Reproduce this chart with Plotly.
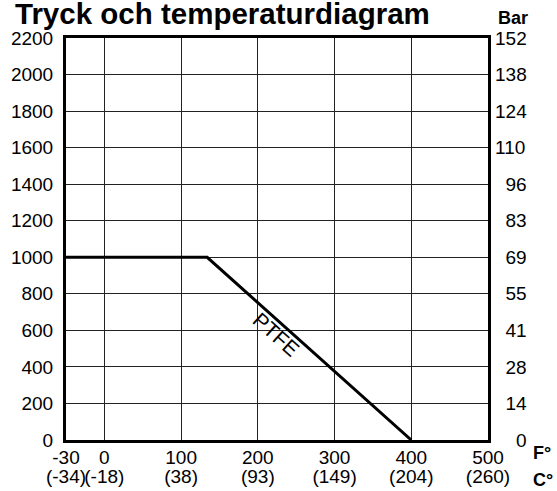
import plotly.graph_objects as go

# ---- data ----
psi_ticks = [0, 200, 400, 600, 800, 1000, 1200, 1400, 1600, 1800, 2000, 2200]
bar_labels = ["0", "14", "28", "41", "55", "69", "83", "96", "110", "124", "138", "152"]
temp_F_pos = [-50, 0, 100, 200, 300, 400, 500]          # axis origin is labelled -30
temp_F_labels = ["-30", "0", "100", "200", "300", "400", "500"]
temp_C_labels = ["(-34)", "(-18)", "(38)", "(93)", "(149)", "(204)", "(260)"]
ptfe_temp = [-50, 134, 400]
ptfe_psi = [1000, 1000, 0]

FONT = "Liberation Sans, Arial, sans-serif"
W, H = 557, 491
ML, MR, MT, MB = 66, 69, 38, 51
PW, PH = W - ML - MR, H - MT - MB

def px_x(px):
    return (px - ML) / PW

def px_y(py):
    return (H - MB - py) / PH

# pad right-axis labels so they appear right-aligned
bar_padded = ["\u00a0\u00a0" * (3 - len(s)) + s for s in bar_labels]

fig = go.Figure()
fig.add_trace(go.Scatter(x=ptfe_temp, y=ptfe_psi, mode="lines",
                         line=dict(color="black", width=3), showlegend=False,
                         hoverinfo="skip"))
# invisible trace for secondary axes
fig.add_trace(go.Scatter(x=[temp_F_pos[0]], y=[psi_ticks[0]], xaxis="x2", yaxis="y2",
                         mode="markers", marker=dict(opacity=0), showlegend=False,
                         hoverinfo="skip"))

xr = [-50, 500]
yr = [0, 2200]
fig.update_layout(
    width=W, height=H,
    margin=dict(l=ML, r=MR, t=MT, b=MB, pad=0, autoexpand=False),
    paper_bgcolor="white", plot_bgcolor="white",
    font=dict(family=FONT, size=19, color="black"),
    xaxis=dict(range=xr, tickmode="array", tickvals=temp_F_pos, ticktext=temp_F_labels,
               showgrid=True, gridcolor="#222", gridwidth=1,
               showline=True, linecolor="black", linewidth=3, mirror=True,
               ticks="", zeroline=False, ticklabelstandoff=-2, tickangle=0,
               automargin=False, tickfont=dict(size=19)),
    xaxis2=dict(range=xr, overlaying="x", anchor="y", side="bottom",
                tickmode="array", tickvals=temp_F_pos, ticktext=temp_C_labels,
                showgrid=False, showline=False, zeroline=False, ticks="",
                ticklabelstandoff=23, tickangle=0, automargin=False,
                tickfont=dict(size=19)),
    yaxis=dict(range=yr, tickmode="array", tickvals=psi_ticks,
               ticktext=[str(v) for v in psi_ticks],
               showgrid=True, gridcolor="#222", gridwidth=1,
               showline=True, linecolor="black", linewidth=3, mirror=True,
               ticks="", zeroline=False, ticklabelstandoff=6,
               automargin=False, tickfont=dict(size=19)),
    yaxis2=dict(range=yr, overlaying="y", anchor="x", side="right",
                tickmode="array", tickvals=psi_ticks, ticktext=bar_padded,
                showgrid=False, showline=False, zeroline=False, ticks="",
                ticklabelstandoff=6, automargin=False, tickfont=dict(size=19)),
    showlegend=False,
)

fig.add_annotation(text="<b>Tryck och temperaturdiagram</b>", xref="paper", yref="paper",
                   x=px_x(13), y=px_y(13), xanchor="left", yanchor="middle",
                   showarrow=False, font=dict(family=FONT, size=29.5, color="black"))
fig.add_annotation(text="<b>Bar</b>", xref="paper", yref="paper",
                   x=px_x(496), y=px_y(18), xanchor="left", yanchor="middle",
                   showarrow=False, font=dict(family=FONT, size=18, color="black"))
fig.add_annotation(text="<b>F°</b>", xref="paper", yref="paper",
                   x=px_x(531), y=px_y(453), xanchor="left", yanchor="middle",
                   showarrow=False, font=dict(family=FONT, size=18, color="black"))
fig.add_annotation(text="<b>C°</b>", xref="paper", yref="paper",
                   x=px_x(531), y=px_y(480), xanchor="left", yanchor="middle",
                   showarrow=False, font=dict(family=FONT, size=18, color="black"))
fig.add_annotation(text="PTFE", xref="x", yref="y", x=224, y=575,
                   textangle=42, showarrow=False,
                   font=dict(family=FONT, size=21, color="black"))

fig.write_html("out.html", config={"displayModeBar": False, "staticPlot": True},
               post_script="document.body.style.margin='0';document.body.style.overflow='hidden';")
